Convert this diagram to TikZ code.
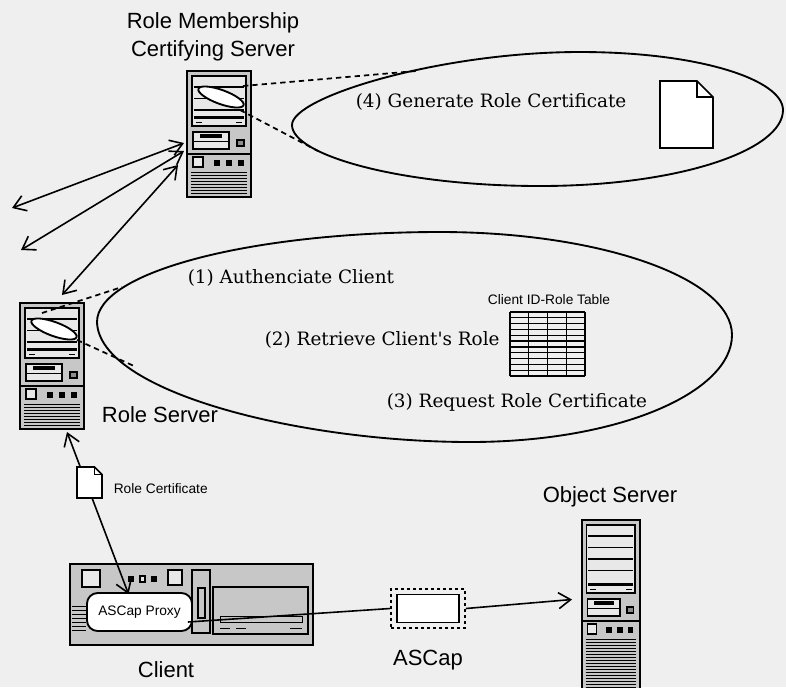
\documentclass[tikz,border=0pt]{standalone}
\usepackage{fontspec}
\setmainfont{DejaVu Serif}
\setsansfont{Liberation Sans}
\usetikzlibrary{arrows.meta, shapes.geometric}
\definecolor{paper}{RGB}{239,239,239}
\colorlet{cabinet}{black!22}
\colorlet{panel}{black!9}

\tikzset{
  pics/tower/.style 2 args={code={
    \pgfmathsetmacro\stripend{#1-8}
    \pgfmathsetmacro\grilletop{#1+51}
    \pgfmathsetmacro\grillenext{#1+54}
    \pgfmathsetmacro\grilleend{#2-4}
    \node[inner sep=0, outer sep=0, minimum width=48pt, minimum height={#2*0.75pt}, anchor=north west] (-box) at (0,0) {};
    \draw[line width=1.5pt, fill=cabinet] (0,0) rectangle (64,#2);
    \draw[line width=1.3pt, fill=panel] (5,5) rectangle (59,#1+5);
    \foreach \yy in {16,27.5,...,\stripend} \draw[line width=0.8pt] (7,\yy) -- (57,\yy);
    \fill (7,#1-5) rectangle (57,#1-2);
    \draw[line width=0.5pt] (9,#1+1) -- (15,#1+1) (49,#1+1) -- (55,#1+1);
    \draw[line width=1.3pt, fill=panel] (6,#1+11) rectangle (42,#1+28);
    \fill (13,#1+13) rectangle (35,#1+17);
    \draw[line width=0.5pt] (6,#1+20) -- (42,#1+20);
    \draw[line width=1.2pt, fill=black!45] (50,#1+19) rectangle (57,#1+25);
    \draw[line width=1pt] (0,#1+33) -- (64,#1+33);
    \draw[line width=1.3pt, fill=panel] (6,#1+36) rectangle (16,#1+46);
    \foreach \xx in {27,39,51} \fill (\xx,#1+39) rectangle ++(6,6);
    \foreach \yy in {\grilletop,\grillenext,...,\grilleend} \draw[line width=0.6pt] (4,\yy) -- (60,\yy);
  }},
  pics/sheet/.style 2 args={code={
    \pgfmathsetmacro\fold{0.3*#1}
    \draw[fill=white, line join=miter] (0,0) -- (#1-\fold,0) -- (#1,\fold) -- (#1,#2) -- (0,#2) -- cycle;
    \draw (#1-\fold,0) -- (#1-\fold,\fold) -- (#1,\fold);
  }},
}

\begin{document}
\begin{tikzpicture}[x=0.75pt, y=-0.75pt, line width=1.2pt,
    >={Straight Barb[length=9pt,width=12pt]},
    caption/.style={font=\sffamily\fontsize{16.5}{21}\selectfont, inner sep=0},
    smalltext/.style={font=\sffamily\fontsize{10.3}{12}\selectfont, inner sep=0},
    steptext/.style={font=\rmfamily\fontsize{13.8}{16}\selectfont, anchor=west, inner sep=0},
    lens/.style={draw, ellipse, fill=white, inner sep=0, line width=1.4pt,
                 minimum width=36pt, minimum height=10.5pt, rotate=-20},
    bubble/.style={line width=1.4pt},
    zoomline/.style={line width=1.3pt, dash pattern=on 4pt off 3pt}]
  \fill[paper] (0,0) rectangle (786,687);
  \useasboundingbox (0,0) rectangle (786,687);

  % servers
  \pic (rms) at (187,71) {tower={50}{126}};
  \pic (rs) at (20,303) {tower={50}{126}};
  \pic[xscale=0.9] (obj) at (582,520) {tower={68}{175}};

  \node[lens] (lensA) at (221,97) {};
  \node[lens] (lensB) at (54,329) {};

  % call-out bubbles
  \draw[bubble] (292,125) coordinate (bubbleA-west)
    .. controls (292,97) and (440,52) .. (580,52)
    .. controls (700,52) and (783,80) .. (783,110)
    .. controls (783,150) and (680,186) .. (540,186)
    .. controls (400,186) and (292,155) .. cycle;
  \draw[bubble] (97,322) coordinate (bubbleB-west)
    .. controls (97,272) and (251,232) .. (440,232)
    .. controls (600,232) and (732,278) .. (732,335)
    .. controls (732,392) and (620,442) .. (470,442)
    .. controls (300,442) and (99,392) .. cycle;
  \coordinate (bubbleA-top) at (416,71);
  \coordinate (bubbleA-low) at (318,151);
  \coordinate (bubbleB-top) at (122,287);
  \coordinate (bubbleB-low) at (134,366);

  \draw[zoomline] ([shift={(22,-11)}]lensA.center) -- (bubbleA-top);
  \draw[zoomline] ([shift={(19,13)}]lensA.center) -- (bubbleA-low);
  \draw[zoomline] ([shift={(-12,-16)}]lensB.center) -- (bubbleB-top);
  \draw[zoomline] ([shift={(23,11)}]lensB.center) -- (bubbleB-low);

  \node[caption, align=center] (rmslabel) at (213,37) {Role Membership\\Certifying Server};
  \node[caption] (rslabel) at (160,415) {Role Server};
  \node[caption] (objlabel) at (610,497) {Object Server};

  \node[steptext] (step1) at (187,278) {(1) Authenciate Client};
  \node[steptext] (step2) at (264,340) {(2) Retrieve Client\textquotesingle s Role};
  \node[steptext] (step3) at (386,402) {(3) Request Role Certificate};
  \node[steptext] (step4) at (355,102) {(4) Generate Role Certificate};

  % role table
  \node[smalltext] (tablelabel) at (549,300) {Client ID-Role Table};
  \foreach \cx in {0,...,4} \draw[line width=1pt] (510+\cx*18.75,312) -- (510+\cx*18.75,376);
  \foreach \ry in {0,...,11} \draw[line width=1pt] (510,312+\ry*5.818) -- (585,312+\ry*5.818);

  \pic at (660,81) {sheet={53}{67}};

  % client machine
  \node[draw, line width=1.5pt, fill=cabinet, minimum width=182.25pt, minimum height=60.75pt] (client) at (191.5,604.5) {};
  \draw[line width=1.3pt, fill=panel] (82,570) rectangle (100,587);
  \fill (128,576) rectangle (134,582);
  \draw[line width=1pt, fill=panel] (140,576) rectangle (145,582);
  \fill (151,576) rectangle (157,582);
  \draw[line width=1.3pt, fill=panel] (168,570) rectangle (182,585);
  \draw[line width=1.3pt] (192,570) rectangle (210,633);
  \draw[line width=1pt] (198,588) rectangle (205,618);
  \draw[line width=1.3pt] (213,587) rectangle (308,634);
  \draw[line width=0.7pt] (220,616) rectangle (302,622);
  \draw[line width=0.6pt] (220,628) -- (230,628) (236,628) -- (246,628) (290,628) -- (302,628);
  \foreach \yy in {606,610,...,630} \draw[line width=0.5pt] (72,\yy) -- (86,\yy);
  \node[draw, line width=1.4pt, fill=white, rounded corners=8pt, minimum width=78.75pt, minimum height=28.5pt,
        font=\sffamily\fontsize{10.3}{12}\selectfont] (proxy) at (139.5,612) {ASCap Proxy};
  \node[caption] (clientlabel) at (166,670) {Client};

  % capability in transit
  \node[draw, line width=1.3pt, dash pattern=on 2.5pt off 2pt, minimum width=55.5pt, minimum height=29.25pt] (ascap) at (428,608.5) {};
  \node[draw, line width=1.3pt, fill=white, minimum width=47pt, minimum height=21pt] (ascapcore) at (428,608.5) {};
  \node[caption] (ascaplabel) at (428,660) {ASCap};

  % links
  \coordinate (farA) at (12,208);
  \coordinate (farB) at (21,250);
  \coordinate (farC) at (62,295);
  \draw[<->] (farA) -- ([shift={(-3,9)}]rms-box.west);
  \draw[<->] (farB) -- ([shift={(-3,17)}]rms-box.west);
  \draw[<->] (farC) -- ([shift={(-9,31)}]rms-box.west);

  \draw[<->] ([shift={(15,3)}]rs-box.south) -- ([shift={(-11,2)}]proxy.north);
  \pic at (77,467) {sheet={25}{31}};
  \node[smalltext, anchor=west] (certlabel) at (113,489) {Role Certificate};

  \draw ([shift={(-5,10)}]proxy.east) -- (ascap.west);
  \draw[->] (ascap.east) -- ([shift={(-10,-8)}]obj-box.west);
\end{tikzpicture}
\end{document}
